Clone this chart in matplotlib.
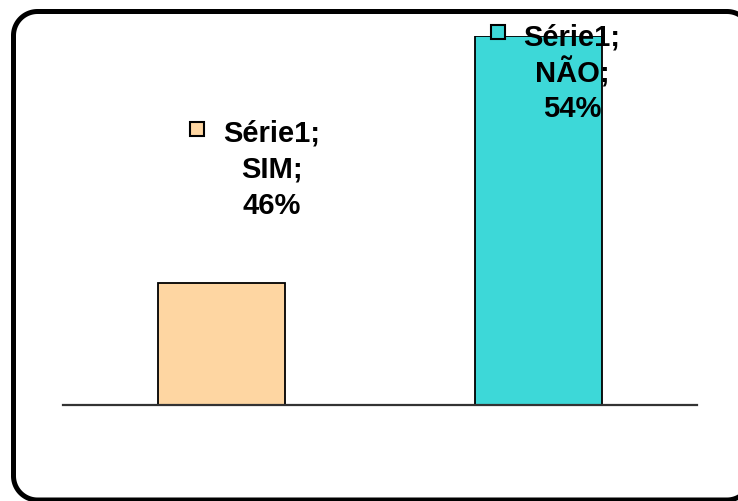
import matplotlib
matplotlib.use("Agg")
import numpy as np
import matplotlib.pyplot as plt
from matplotlib.patches import Rectangle

series_name = "Série1"
categories = ["SIM", "NÃO"]
values = [46, 54]
colors = ["#FED6A2", "#3DD8D8"]

W, H = 738, 502
fig = plt.figure(figsize=(W / 100, H / 100), dpi=100)
fig.patch.set_facecolor("white")

def px(x0, y0, x1, y1):
    return [x0 / W, 1 - y1 / H, (x1 - x0) / W, (y1 - y0) / H]

# Overlay in pixel units (y measured from the top) for frame and label keys
ov = fig.add_axes([0, 0, 1, 1])
ov.set_xlim(0, W)
ov.set_ylim(0, H)
ov.axis("off")
ov.patch.set_visible(False)
ov.set_zorder(3)

def Y(y):
    return H - y

# Rounded outer frame drawn as an open outline (right side lies off-canvas)
L, T, R, B, rad = 13.5, 12.5, 751.0, 501.0, 24.0
def arc(cx, cy, a0, a1):
    t = np.linspace(np.radians(a0), np.radians(a1), 30)
    return cx + rad * np.cos(t), cy - rad * np.sin(t)
xs, ys = [], []
for (cx, cy, a0, a1) in [(R - rad, T + rad, 0, 90), (L + rad, T + rad, 90, 180),
                         (L + rad, B - rad, 180, 270), (R - rad, B - rad, 270, 360)]:
    ax_, ay_ = arc(cx, cy, a0, a1)
    xs.extend(ax_); ys.extend(ay_)
xs.append(xs[0]); ys.append(ys[0])
ov.plot(xs, [Y(v) for v in ys], color="black", linewidth=3.6,
        solid_joinstyle="round", solid_capstyle="round", clip_on=False)

ax = fig.add_axes(px(63, 37, 697, 406))
x = list(range(len(categories)))
ax.bar(x, values, width=0.4, color=colors, edgecolor="black", linewidth=1.3, zorder=2)
ax.set_xlim(-0.5, len(categories) - 0.5)
ax.set_ylim(42.05, 54)
for s in ["top", "right", "left"]:
    ax.spines[s].set_visible(False)
ax.spines["bottom"].set_linewidth(1.6)
ax.spines["bottom"].set_color("#333333")
ax.set_xticks([])
ax.set_yticks([])
ax.patch.set_visible(False)

# Data labels (pixel layout: block centre x, first-line centre y, key left x)
label_pos = [(272, 131, 190), (572, 34, 491)]
for i, (cat, val) in enumerate(zip(categories, values)):
    cx, cy, kx = label_pos[i]
    lines = [f"{series_name};", f"{cat};", f"{val}%"]
    for j, line in enumerate(lines):
        ov.text(cx, Y(cy + j * 36), line, ha="center", va="center_baseline",
                fontsize=21, fontweight="bold", family=["Liberation Sans", "DejaVu Sans"],
                zorder=5)
    ov.add_patch(Rectangle((kx, Y(cy + 6)), 14, 14, facecolor=colors[i],
                           edgecolor="black", linewidth=1.5, zorder=6))

fig.savefig("out.png", dpi=100)
